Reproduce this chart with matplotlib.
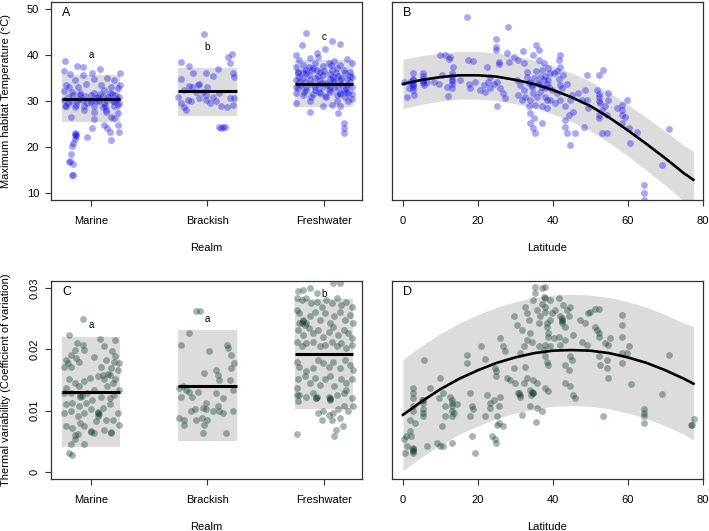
import matplotlib
matplotlib.use("Agg")
import matplotlib.pyplot as plt

plt.rcParams['font.family'] = ['Liberation Sans', 'DejaVu Sans']
plt.rcParams['font.size'] = 8

# ---- data ----
realms = ["Marine", "Brackish", "Freshwater"]
realm_pos = [1, 2, 3]

# panel A: (jitter, Tmax)
marine_temp = [(-0.22,38.7),(-0.23,36.5),(-0.12,37.7),(-0.07,37.4),(0.08,37.0),(0.01,36.2),(0.25,36.0),(-0.18,35.9),
    (-0.07,35.6),(0.14,35.1),(0.03,34.7),(-0.14,34.6),(0.20,34.6),(-0.21,33.5),(0.25,33.4),(-0.19,33.0),(-0.11,33.1),
    (-0.04,33.8),(0.09,33.5),(0.17,33.1),(0.23,32.8),(0.11,32.4),(-0.23,32.2),(-0.16,32.0),(-0.09,31.7),(0.00,31.3),
    (0.06,30.9),(0.16,31.7),(0.21,31.3),(-0.23,30.2),(-0.20,29.5),(-0.17,29.9),(-0.13,29.1),(-0.09,31.3),(-0.07,30.2),
    (-0.03,29.5),(0.01,30.2),(0.04,30.6),(0.07,29.9),(0.11,29.5),(0.14,30.2),(0.19,29.9),(0.23,29.1),(0.24,30.9),
    (-0.21,28.8),(-0.14,28.6),(-0.06,28.8),(0.03,28.9),(0.10,28.6),(0.20,28.8),(0.24,29.5),(-0.17,26.6),(-0.06,28.0),
    (0.03,27.7),(0.13,28.0),(0.17,26.6),(0.23,27.3),(0.03,26.0),(0.11,24.8),(0.14,24.1),(0.16,23.3),(0.23,24.8),
    (0.24,23.3),(0.01,24.1),(-0.03,22.1),(0.17,21.4),(0.13,27.5),(0.20,26.2),(-0.14,23.0),(-0.13,22.4),(-0.14,21.7),
    (-0.15,20.8),(-0.16,20.1),(-0.17,18.5),(-0.18,17.0),(-0.19,16.6),(-0.15,16.2),(-0.16,13.9),(-0.15,13.9),
    (-0.14,22.6),(-0.13,22.9),(-0.10,30.5),(-0.05,31.0),(0.05,30.0),(0.10,31.0),(0.15,30.8),(0.20,30.0),(-0.15,31.2),
    (-0.20,30.8),(0.00,29.8),(0.08,31.5),(-0.12,30.0),(0.18,31.5),(-0.22,29.0),(0.22,30.5),(0.03,31.8),(0.12,29.0)]
brackish_temp = [(-0.03,44.6),(-0.23,38.5),(-0.16,37.7),(0.21,40.2),(0.18,39.5),(0.19,38.3),(0.09,36.9),(-0.12,36.2),
    (-0.01,36.2),(0.22,36.2),(0.23,35.3),(-0.23,34.9),(0.05,35.4),(-0.16,33.3),(-0.07,33.7),(-0.13,33.0),(-0.20,32.5),
    (-0.10,32.0),(-0.01,31.3),(0.05,30.9),(0.10,31.7),(0.19,30.6),(-0.07,30.7),(-0.17,30.2),(-0.23,29.5),(-0.20,28.6),
    (-0.14,29.9),(0.02,29.5),(0.07,29.9),(0.12,28.9),(0.17,28.6),(0.22,29.1),(0.23,30.6),(-0.01,30.2),(-0.04,32.0),
    (-0.25,30.9),(-0.18,28.0),(0.10,24.3),(0.13,24.3),(0.15,24.4),(0.12,24.1),(-0.08,33.5),(0.00,33.1)]
fresh_temp = [(-0.15,44.9),(-0.19,42.2),(0.07,43.1),(0.14,42.5),(0.01,41.4),(-0.24,40.1),(-0.06,40.4),(-0.05,39.6),
    (-0.12,39.3),(0.09,38.7),(0.20,39.1),(0.24,38.2),(-0.21,38.9),(-0.18,37.8),(-0.08,38.2),(-0.01,37.6),(0.04,38.2),
    (0.14,37.8),(-0.24,37.5),(-0.22,36.4),(-0.15,36.7),(-0.09,37.1),(-0.03,36.4),(0.07,36.7),(0.11,37.1),(0.17,36.7),
    (0.22,36.4),(-0.21,35.3),(-0.13,35.7),(-0.08,35.1),(-0.01,35.7),(0.05,34.9),(0.12,35.4),(0.20,34.9),(0.24,35.3),
    (-0.24,34.6),(-0.16,34.2),(-0.11,33.8),(-0.03,34.6),(0.02,34.0),(0.09,34.2),(0.15,33.8),(0.22,34.2),(-0.22,32.8),
    (-0.15,33.1),(-0.08,32.5),(-0.02,33.0),(0.04,32.4),(0.09,32.8),(0.17,32.5),(0.24,33.0),(-0.24,31.7),(-0.18,31.3),
    (-0.11,30.9),(-0.03,31.7),(0.02,30.8),(0.11,31.3),(0.18,30.9),(0.24,30.4),(-0.24,29.5),(-0.12,29.9),(-0.01,28.8),
    (0.07,29.1),(0.14,28.8),(0.21,29.9),(-0.12,27.5),(0.12,27.3),(0.17,25.3),(0.17,24.1),(0.17,23.0),
    (-0.21,34.2),(-0.06,33.8),(0.08,35.3),(0.19,32.8),(-0.15,32.4),(0.05,32.0),(0.14,31.7),(0.21,31.7),(-0.18,36.4),
    (0.05,33.1),(-0.06,36.7),(0.14,34.6),(-0.20,33.5),(-0.18,35.0),(-0.15,36.0),(-0.12,34.5),(-0.10,36.8),(-0.08,33.0),
    (-0.05,35.5),(-0.02,34.0),(0.00,36.5),(0.03,33.5),(0.05,35.8),(0.08,34.5),(0.10,36.0),(0.12,33.0),(0.15,35.0),
    (0.18,36.2),(0.20,33.5),(0.22,35.5),(-0.22,36.0),(-0.17,32.0),(-0.13,37.5),(-0.04,32.0),(0.06,37.8),(0.14,31.5),
    (0.19,32.0),(0.24,31.5),(-0.24,33.0),(0.01,31.0),(-0.09,31.5),(0.11,30.0)]
temp_mean = [30.5, 32.1, 33.8]
temp_lo = [25.4, 26.8, 28.6]
temp_hi = [35.7, 37.2, 38.9]
temp_letters = ["a", "b", "c"]
temp_letter_y = [40.0, 41.8, 44.0]

# panel B: (latitude, Tmax) and fitted curve
lat_temp = [(17.1,48.3),(27.9,46.2),(24.9,43.5),(24.9,41.8),(24.9,41.1),(27.7,40.4),(32.0,40.9),(35.6,42.2),(10.0,40.1),
    (11.3,40.1),(12.6,39.6),(12.2,39.1),(17.3,38.9),(18.8,38.7),(22.4,37.5),(25.5,38.6),(25.5,38.0),(28.2,38.6),
    (29.5,39.6),(30.8,38.9),(32.2,38.2),(2.8,36.0),(2.8,34.9),(2.8,33.8),(2.8,33.0),(2.8,32.4),(2.0,34.2),(1.2,30.9),
    (3.0,31.3),(0.2,34.2),(1.5,32.8),(5.3,36.0),(5.3,34.9),(5.3,34.0),(5.5,33.5),(6.4,34.2),(8.2,34.2),(9.5,33.8),
    (10.4,35.7),(11.7,33.1),(12.0,31.1),(13.1,36.0),(13.1,34.9),(13.1,33.8),(13.1,32.8),(13.3,37.5),(15.3,34.6),
    (17.5,33.8),(18.0,32.8),(19.3,34.2),(20.6,32.4),(21.5,33.5),(22.8,34.2),(23.3,35.3),(24.2,33.8),(25.1,34.2),
    (26.0,32.8),(26.8,31.7),(27.3,30.6),(25.2,28.8),(23.3,32.8),(22.0,32.0),(30.4,34.6),(31.3,33.5),(32.2,32.4),
    (33.1,36.4),(33.1,35.3),(34.0,34.2),(34.4,33.1),(34.8,31.7),(35.7,30.9),(36.2,33.8),(36.6,35.3),(37.1,36.7),
    (37.5,38.2),(38.0,32.8),(38.4,30.2),(38.8,34.6),(39.3,36.0),(32.6,30.9),(34.0,30.2),(30.8,31.3),(31.7,30.2),
    (33.5,28.8),(35.3,29.1),(37.1,28.8),(38.4,28.4),(33.8,27.3),(35.0,26.2),(34.0,25.1),(34.8,24.1),(35.3,23.0),
    (37.1,25.1),(36.2,38.9),(34.8,40.0),(36.4,41.1),(42.0,40.0),(41.5,38.9),(42.0,37.5),(38.8,37.1),(40.2,36.0),
    (41.5,34.9),(42.8,35.7),(43.7,33.8),(42.4,32.8),(41.1,31.7),(39.7,32.4),(38.4,33.8),(38.0,30.9),(39.3,30.2),
    (40.6,29.5),(42.0,30.2),(43.3,28.8),(44.6,30.2),(45.5,27.7),(44.2,27.0),(43.3,25.9),(43.3,24.4),(43.7,23.0),
    (44.6,20.4),(46.0,23.0),(45.1,31.3),(46.8,31.7),(47.7,30.2),(48.6,32.4),(49.1,30.2),(49.5,28.4),(48.2,24.4),
    (49.1,35.7),(52.2,35.7),(53.5,36.7),(51.7,32.4),(52.2,30.9),(52.6,29.5),(53.1,28.0),(52.2,27.0),(52.2,26.2),
    (54.8,31.7),(54.8,30.2),(54.0,28.8),(54.4,27.0),(53.1,23.0),(54.4,23.0),(57.1,28.4),(58.4,29.1),(59.7,30.2),
    (58.4,27.0),(59.3,26.6),(58.4,25.1),(60.2,24.1),(60.6,20.8),(62.4,23.3),(70.9,23.8),(69.1,16.1),(64.2,11.7),
    (64.2,9.9),(64.2,8.5),(2.8,34.5),(2.8,33.4),(5.3,35.5),(5.3,34.4),(13.1,35.4),(13.1,34.4),(35.0,35.0),(36.0,34.0),
    (37.0,33.0),(38.0,35.5),(35.5,36.5),(34.5,33.5),(36.5,32.0),(33.5,34.0),(37.5,34.5),(39.0,33.0),(42.0,33.5),
    (41.0,36.5),(52.2,31.5),(52.2,30.0),(58.4,28.0)]
fit_lat = [0, 5, 10, 15, 20, 25, 30, 35, 40, 45, 50, 55, 60, 65, 70, 75, 77.5]
temp_fit = [33.7, 34.6, 35.2, 35.6, 35.6, 35.3, 34.6, 33.7, 32.4, 30.8, 28.9, 26.4, 23.6, 20.6, 17.5, 14.2, 12.8]
temp_fit_hi = [39.1, 39.9, 40.45, 40.8, 40.8, 40.5, 39.8, 38.9, 37.65, 36.1, 34.3, 31.9, 29.2, 26.35, 23.4, 20.3, 19.0]
temp_fit_lo = [28.3, 29.3, 29.95, 30.4, 30.4, 30.1, 29.4, 28.5, 27.15, 25.5, 23.5, 20.9, 18.0, 14.85, 11.6, 8.1, 6.6]

# panel C: (jitter, CV)
marine_cv = [(-0.07,0.0250),(-0.19,0.0223),(-0.12,0.0210),(-0.07,0.0208),(-0.06,0.0199),(-0.14,0.0199),(-0.17,0.0191),
    (-0.21,0.0183),(-0.23,0.0172),(-0.20,0.0178),(-0.17,0.0171),(-0.13,0.0186),(-0.10,0.0180),(0.08,0.0217),(0.11,0.0205),
    (0.03,0.0187),(0.21,0.0216),(0.18,0.0197),(0.21,0.0189),(0.20,0.0180),(0.24,0.0178),(0.17,0.0169),(0.13,0.0183),
    (0.23,0.0167),(0.09,0.0172),(0.06,0.0156),(-0.01,0.0153),(-0.06,0.0148),(-0.10,0.0140),(-0.14,0.0145),(-0.19,0.0151),
    (-0.21,0.0137),(-0.23,0.0129),(-0.17,0.0129),(-0.09,0.0123),(-0.03,0.0129),(0.03,0.0134),(0.10,0.0159),(0.11,0.0151),
    (0.14,0.0140),(0.19,0.0145),(0.21,0.0151),(0.24,0.0134),(0.20,0.0126),(0.16,0.0121),(0.09,0.0123),(0.01,0.0118),
    (-0.04,0.0112),(-0.10,0.0107),(-0.16,0.0112),(-0.21,0.0110),(-0.23,0.0096),(-0.17,0.0099),(-0.11,0.0091),
    (-0.06,0.0096),(0.00,0.0102),(0.06,0.0096),(0.10,0.0104),(0.16,0.0110),(0.23,0.0096),(0.06,0.0091),(0.13,0.0085),
    (0.19,0.0085),(0.24,0.0077),(-0.21,0.0074),(-0.16,0.0072),(-0.11,0.0061),(-0.06,0.0074),(0.00,0.0066),(0.04,0.0083),
    (0.11,0.0069),(0.17,0.0064),(-0.14,0.0053),(-0.17,0.0045),(-0.06,0.0045),(-0.19,0.0031),(-0.16,0.0028),(-0.09,0.0080),
    (0.03,0.0064),(-0.09,0.0126),(-0.08,0.0124),(0.06,0.0097),(0.07,0.0095),(0.00,0.0065),(0.17,0.0065),(-0.14,0.0060),
    (0.15,0.0160),(0.16,0.0158)]
brackish_cv = [(-0.10,0.0263),(-0.06,0.0263),(-0.16,0.0227),(-0.23,0.0208),(0.17,0.0208),(0.18,0.0202),(0.20,0.0191),
    (0.23,0.0178),(0.01,0.0198),(0.20,0.0169),(0.07,0.0167),(0.09,0.0159),(-0.03,0.0161),(0.10,0.0150),(0.19,0.0150),
    (0.22,0.0134),(-0.24,0.0137),(-0.21,0.0140),(-0.18,0.0134),(-0.16,0.0131),(-0.08,0.0130),(-0.13,0.0123),(-0.23,0.0123),
    (0.07,0.0129),(0.13,0.0121),(-0.01,0.0112),(-0.11,0.0102),(-0.14,0.0099),(-0.04,0.0104),(-0.01,0.0102),(0.05,0.0099),
    (0.10,0.0099),(0.13,0.0096),(0.09,0.0107),(0.22,0.0099),(-0.24,0.0088),(-0.20,0.0085),(-0.05,0.0088),(0.00,0.0085),
    (-0.03,0.0077),(-0.20,0.0077),(0.16,0.0064),(-0.04,0.0063),(-0.10,0.0085)]
fresh_cv = [(-0.23,0.0061),(0.09,0.0058),(0.10,0.0069),(0.16,0.0075),(-0.22,0.0296),(0.08,0.0308),(0.14,0.0309),
    (-0.18,0.0297),(-0.12,0.0300),(-0.06,0.0292),(-0.235,0.0284),(-0.19,0.0281),(-0.15,0.0284),(-0.11,0.0276),
    (-0.06,0.0278),(-0.02,0.0270),(0.02,0.0281),(0.07,0.0276),(0.11,0.0284),(0.15,0.0273),(0.19,0.0278),(0.24,0.0270),
    (-0.235,0.0265),(-0.21,0.0260),(-0.18,0.0248),(-0.15,0.0243),(-0.12,0.0254),(-0.08,0.0262),(-0.03,0.0248),
    (0.01,0.0260),(0.05,0.0243),(0.09,0.0254),(0.14,0.0262),(0.18,0.0248),(0.22,0.0257),(0.25,0.0243),(-0.22,0.0232),
    (-0.18,0.0224),(-0.13,0.0235),(-0.09,0.0227),(-0.05,0.0232),(-0.01,0.0221),(0.04,0.0229),(0.08,0.0237),(0.12,0.0224),
    (0.17,0.0232),(0.21,0.0227),(0.24,0.0218),(-0.235,0.0213),(-0.19,0.0205),(-0.15,0.0210),(-0.09,0.0213),(-0.03,0.0205),
    (0.01,0.0208),(0.07,0.0213),(0.11,0.0205),(0.15,0.0210),(0.19,0.0202),(0.24,0.0208),(-0.21,0.0243),(-0.18,0.0246),
    (-0.16,0.0240),(-0.19,0.0244),(-0.235,0.0180),(-0.21,0.0172),(-0.15,0.0164),(-0.09,0.0170),(-0.05,0.0183),
    (-0.01,0.0178),(0.04,0.0172),(0.08,0.0180),(0.14,0.0170),(0.18,0.0183),(0.22,0.0175),(0.25,0.0167),(-0.22,0.0151),
    (-0.16,0.0156),(-0.12,0.0145),(-0.08,0.0153),(-0.03,0.0142),(0.01,0.0151),(0.05,0.0156),(0.09,0.0140),(0.15,0.0151),
    (0.19,0.0145),(0.24,0.0151),(-0.235,0.0137),(-0.21,0.0126),(-0.22,0.0115),(-0.15,0.0123),(-0.09,0.0129),
    (-0.07,0.0121),(0.04,0.0123),(0.05,0.0118),(0.11,0.0126),(0.17,0.0129),(0.19,0.0134),(0.24,0.0121),(0.25,0.0107),
    (-0.05,0.0096),(-0.01,0.0099),(0.04,0.0093),(0.08,0.0096),(0.12,0.0102),(0.17,0.0107),(0.21,0.0099),(0.14,0.0088),
    (0.07,0.0085),(-0.02,0.0085),(-0.07,0.0120),(-0.06,0.0122),(0.05,0.0121),(0.05,0.0119),(-0.23,0.0126)]
cv_mean = [0.0130, 0.0141, 0.0193]
cv_lo = [0.0040, 0.0051, 0.0103]
cv_hi = [0.0220, 0.0232, 0.0282]
cv_letters = ["a", "a", "b"]
cv_letter_y = [0.0240, 0.0250, 0.0290]

# panel D: (latitude, CV) and fitted curve
lat_cv = [(2.8,0.0137),(2.8,0.0129),(2.8,0.0121),(2.8,0.0107),(2.8,0.0099),(2.8,0.0039),(2.8,0.0034),(2.8,0.0031),
    (2.6,0.0036),(2.8,0.0037),(0.2,0.0053),(0.9,0.0058),(1.8,0.0066),(2.1,0.0058),(1.1,0.0042),(0.6,0.0031),(3.3,0.0080),
    (2.0,0.0085),(5.3,0.0118),(5.3,0.0113),(5.3,0.0102),(5.3,0.0096),(5.3,0.0091),(5.1,0.0118),(5.5,0.0183),(6.4,0.0042),
    (7.3,0.0137),(9.1,0.0047),(10.0,0.0042),(10.8,0.0042),(9.5,0.0121),(9.8,0.0153),(10.8,0.0129),(11.3,0.0107),
    (11.3,0.0091),(10.4,0.0074),(13.1,0.0047),(13.1,0.0118),(13.1,0.0112),(13.1,0.0107),(13.1,0.0099),(13.1,0.0091),
    (12.6,0.0123),(13.5,0.0096),(14.4,0.0110),(17.1,0.0191),(17.2,0.0178),(18.0,0.0129),(18.4,0.0107),(18.0,0.0091),
    (18.4,0.0058),(19.3,0.0031),(18.8,0.0102),(20.8,0.0205),(22.0,0.0184),(22.4,0.0126),(23.3,0.0112),(23.3,0.0104),
    (22.0,0.0091),(23.7,0.0058),(24.6,0.0053),(24.9,0.0047),(25.1,0.0091),(25.1,0.0077),(25.5,0.0080),(24.6,0.0170),
    (24.9,0.0164),(24.9,0.0156),(26.0,0.0123),(24.2,0.0118),(25.5,0.0107),(26.8,0.0074),(26.0,0.0218),(26.7,0.0205),
    (27.3,0.0197),(27.7,0.0153),(28.6,0.0150),(29.5,0.0170),(30.0,0.0145),(30.8,0.0129),(31.3,0.0123),(32.2,0.0145),
    (32.6,0.0172),(33.1,0.0153),(34.0,0.0134),(34.8,0.0150),(34.8,0.0129),(35.7,0.0145),(31.7,0.0093),(35.6,0.0082),
    (34.0,0.0107),(35.7,0.0104),(37.1,0.0099),(29.5,0.0254),(30.4,0.0240),(31.7,0.0232),(32.6,0.0270),(33.1,0.0259),
    (33.5,0.0248),(34.0,0.0227),(34.4,0.0213),(34.8,0.0281),(35.3,0.0292),(35.7,0.0265),(36.2,0.0243),(36.6,0.0254),
    (37.1,0.0275),(37.5,0.0286),(38.0,0.0262),(38.4,0.0237),(38.8,0.0221),(39.3,0.0248),(33.1,0.0216),(32.2,0.0205),
    (31.3,0.0194),(36.2,0.0205),(37.5,0.0199),(35.3,0.0303),(37.1,0.0300),(38.0,0.0303),(38.0,0.0284),(38.0,0.0270),
    (39.3,0.0281),(39.7,0.0259),(38.4,0.0243),(40.6,0.0265),(41.5,0.0284),(42.0,0.0254),(42.8,0.0273),(42.4,0.0246),
    (43.3,0.0237),(43.7,0.0265),(44.2,0.0254),(44.6,0.0270),(38.8,0.0227),(40.2,0.0218),(41.5,0.0221),(38.0,0.0208),
    (39.3,0.0205),(42.0,0.0208),(43.3,0.0216),(45.5,0.0224),(38.0,0.0189),(38.4,0.0180),(38.8,0.0175),(38.0,0.0137),
    (38.8,0.0132),(43.3,0.0145),(44.6,0.0140),(45.5,0.0126),(46.0,0.0121),(43.3,0.0175),(44.2,0.0167),(44.6,0.0189),
    (45.1,0.0183),(47.7,0.0213),(49.1,0.0208),(47.3,0.0248),(48.6,0.0243),(49.5,0.0259),(49.9,0.0262),(51.3,0.0267),
    (52.2,0.0267),(51.3,0.0237),(51.7,0.0232),(52.2,0.0227),(52.2,0.0221),(52.2,0.0189),(52.6,0.0175),(54.4,0.0183),
    (54.4,0.0170),(54.8,0.0153),(55.3,0.0218),(53.9,0.0210),(54.8,0.0208),(58.4,0.0256),(58.4,0.0240),(58.4,0.0221),
    (58.4,0.0194),(60.2,0.0205),(59.7,0.0194),(58.4,0.0178),(60.8,0.0144),(69.1,0.0127),(71.0,0.0191),(64.2,0.0102),
    (64.2,0.0096),(64.2,0.0091),(64.2,0.0080),(53.5,0.0091),(77.1,0.0077),(77.6,0.0086),(76.9,0.0076),(34.4,0.0131),
    (34.6,0.0128),(34.2,0.0126),(31.0,0.0128),(31.2,0.0126),(42.4,0.0248),(42.4,0.0243),(42.4,0.0252)]
cv_fit = [0.0093, 0.0115, 0.0135, 0.0152, 0.0166, 0.0178, 0.0187, 0.0194, 0.0198, 0.0199, 0.0198, 0.0194, 0.0187,
          0.0178, 0.0166, 0.0152, 0.0144]
cv_fit_hi = [0.0184, 0.0206, 0.0226, 0.0243, 0.0257, 0.0269, 0.0278, 0.0285, 0.0289, 0.0290, 0.0289, 0.0285, 0.0278,
             0.0269, 0.0257, 0.0243, 0.0238]
cv_fit_lo = [0.0002, 0.0024, 0.0044, 0.0061, 0.0075, 0.0087, 0.0096, 0.0103, 0.0107, 0.0108, 0.0107, 0.0103, 0.0096,
             0.0087, 0.0075, 0.0061, 0.0052]

blue = '#0000ff'
green = '#0b3d2a'
grey = '#dcdcdc'
frame = '#333333'

fig = plt.figure(figsize=(7.09, 5.31), dpi=100)
axA = fig.add_axes([0.0719, 0.6234, 0.4386, 0.3729])
axB = fig.add_axes([0.5529, 0.6234, 0.4386, 0.3729])
axC = fig.add_axes([0.0719, 0.0979, 0.4386, 0.3729])
axD = fig.add_axes([0.5529, 0.0979, 0.4386, 0.3729])

for ax in (axA, axB, axC, axD):
    for s in ax.spines.values():
        s.set_color(frame)
        s.set_linewidth(0.9)
    ax.tick_params(direction='out', length=4.5, width=0.8, color=frame, labelsize=8, pad=7)


def realm_panel(ax, groups, lo, hi, mean, letters, letter_y, color, alpha):
    ax.bar(realm_pos, [h - l for h, l in zip(hi, lo)], bottom=lo, width=0.5, color=grey, zorder=1)
    for pos, pts in zip(realm_pos, groups):
        dx, vals = zip(*pts)
        ax.scatter([pos + d for d in dx], vals, s=24, color=color, alpha=alpha, linewidths=0, zorder=2)
    ax.hlines(mean, [p - 0.25 for p in realm_pos], [p + 0.25 for p in realm_pos], color='black', lw=2.2, zorder=3)
    for pos, t, y in zip(realm_pos, letters, letter_y):
        ax.text(pos, y, t, ha='center', va='center', fontsize=7)
    ax.set_xlim(0.657, 3.326)
    ax.set_xticks(realm_pos)
    ax.set_xticklabels(realms)
    ax.set_xlabel("Realm")
    ax.xaxis.set_label_coords(0.5, -0.215)


def lat_panel(ax, pts, fit, fit_lo, fit_hi, color, alpha):
    ax.fill_between(fit_lat, fit_lo, fit_hi, color=grey, lw=0, zorder=1)
    lat, vals = zip(*pts)
    ax.scatter(lat, vals, s=24, color=color, alpha=alpha, linewidths=0, zorder=2)
    ax.plot(fit_lat, fit, color='black', lw=1.9, zorder=3)
    ax.set_xlim(-2.93, 80.05)
    ax.set_xticks([0, 20, 40, 60, 80])
    ax.set_yticks([])
    ax.set_xlabel("Latitude")
    ax.xaxis.set_label_coords(0.5, -0.215)


realm_panel(axA, [marine_temp, brackish_temp, fresh_temp], temp_lo, temp_hi, temp_mean,
            temp_letters, temp_letter_y, blue, 0.35)
axA.set_ylim(8.4, 51.6)
axA.set_yticks([10, 20, 30, 40, 50])
axA.tick_params(axis='y', pad=4)
axA.set_ylabel("Maximum habitat Temperature (\u00b0C)")
axA.yaxis.set_label_coords(-0.128, 0.5)

lat_panel(axB, lat_temp, temp_fit, temp_fit_lo, temp_fit_hi, blue, 0.35)
axB.set_ylim(8.4, 51.6)

realm_panel(axC, [marine_cv, brackish_cv, fresh_cv], cv_lo, cv_hi, cv_mean,
            cv_letters, cv_letter_y, green, 0.38)
axC.set_ylim(-0.0012, 0.0312)
axC.set_yticks([0, 0.01, 0.02, 0.03])
axC.set_yticklabels(["0", "0.01", "0.02", "0.03"], rotation=90, va='center')
axC.tick_params(axis='y', pad=4)
axC.set_ylabel("Thermal variability (Coefficient of variation)")
axC.yaxis.set_label_coords(-0.128, 0.5)

lat_panel(axD, lat_cv, cv_fit, cv_fit_lo, cv_fit_hi, green, 0.38)
axD.set_ylim(-0.0012, 0.0312)

for ax, lab in zip((axA, axB, axC, axD), "ABCD"):
    ax.text(0.05, 0.944, lab, transform=ax.transAxes, ha='center', va='center', fontsize=9)

fig.savefig("out.png", dpi=100)
